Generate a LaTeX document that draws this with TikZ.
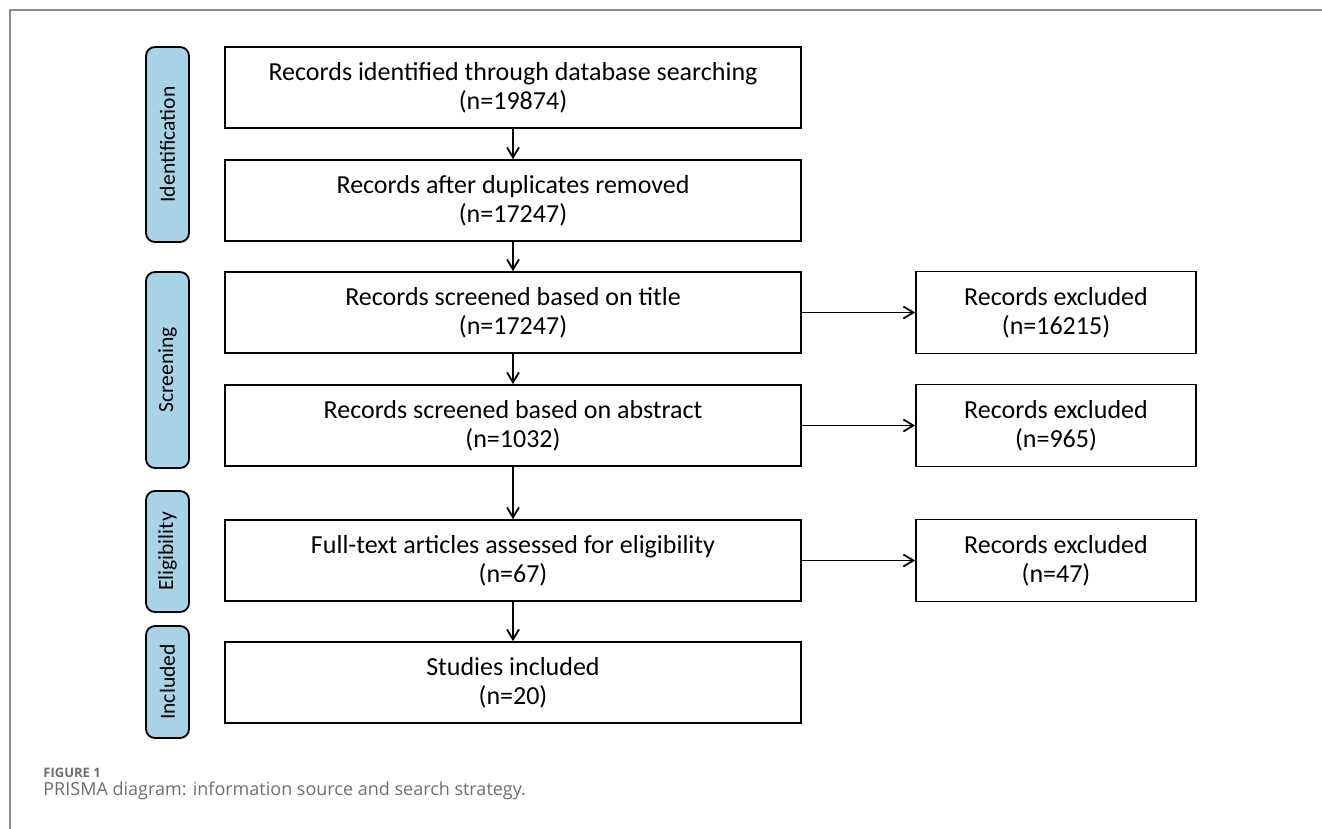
\documentclass[tikz,border=0pt]{standalone}
\usepackage{fontspec}
\setmainfont{Carlito}
\newfontfamily\capfont{Open Sans}
\usetikzlibrary{arrows.meta}
\definecolor{phase}{HTML}{A8D3E7}
\definecolor{framegray}{HTML}{8C8C8C}
\definecolor{capgray}{HTML}{6E6E6E}
\begin{document}
\begin{tikzpicture}[x=0.5pt,y=-0.5pt,
  mainbox/.style={draw, line width=0.9pt, minimum width=288pt, minimum height=40.5pt, align=center, font=\fontsize{13}{14.5}\selectfont, inner sep=0pt},
  sidebox/.style={draw, line width=0.9pt, minimum width=140pt, minimum height=41pt, align=center, font=\fontsize{13}{14.5}\selectfont, inner sep=0pt},
  phasebox/.style={draw, fill=phase, line width=0.9pt, rounded corners=4.5pt, minimum width=21.5pt, inner sep=0pt},
  phasetext/.style={rotate=90, font=\fontsize{10.8}{12}\selectfont},
  flow/.style={-{Straight Barb[length=5pt,width=6pt,line width=0.9pt]}, line width=0.9pt}
]
\useasboundingbox (0,0) rectangle (1322,829);
\draw[framegray, line width=1.1pt] (10,829) -- (10,10) -- (1322,10);

% phase labels
\node[phasebox, minimum height=97.5pt] (pid) at (167.5,144.5) {};
\node[phasetext] (tid) at (pid.center) {Identification};
\node[phasebox, minimum height=98pt] (pscr) at (167.5,370) {};
\node[phasetext] (tscr) at (pscr.center) {Screening};
\node[phasebox, minimum height=60.5pt] (pel) at (167.5,551.5) {};
\node[phasetext] (tel) at (pel.center) {Eligibility};
\node[phasebox, minimum height=56pt] (pin) at (167.5,682) {};
\node[phasetext] (tin) at (pin.center) {Included};

% main flow
\node[mainbox] (b1) at (513,87.5) {Records identified through database searching\\(n=19874)};
\node[mainbox] (b2) at (513,200.5) {Records after duplicates removed\\(n=17247)};
\node[mainbox] (b3) at (513,312.5) {Records screened based on title\\(n=17247)};
\node[mainbox] (b4) at (513,425.5) {Records screened based on abstract\\(n=1032)};
\node[mainbox] (b5) at (513,560.5) {Full-text articles assessed for eligibility\\(n=67)};
\node[mainbox] (b6) at (513,682.5) {Studies included\\(n=20)};

% exclusions
\node[sidebox] (e1) at (1056,312.5) {Records excluded\\(n=16215)};
\node[sidebox] (e2) at (1056,425.5) {Records excluded\\(n=965)};
\node[sidebox] (e3) at (1056,560.5) {Records excluded\\(n=47)};

\draw[flow] (b1) -- (b2);
\draw[flow] (b2) -- (b3);
\draw[flow] (b3) -- (b4);
\draw[flow] (b4) -- (b5);
\draw[flow] (b5) -- (b6);
\draw[flow] (b3) -- (e1);
\draw[flow] (b4) -- (e2);
\draw[flow] (b5) -- (e3);

% caption
\node[anchor=base west, inner sep=0pt, text=capgray, font=\capfont\bfseries\fontsize{6.5}{7}\selectfont] (figlab) at (43,777) {FIGURE 1};
\node[anchor=base west, inner sep=0pt, text=capgray, font=\capfont\fontsize{9}{10}\selectfont] (figcap) at (43,795) {PRISMA diagram: information source and search strategy.};
\end{tikzpicture}
\end{document}
